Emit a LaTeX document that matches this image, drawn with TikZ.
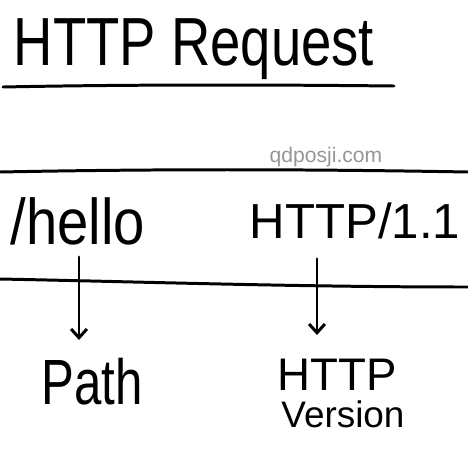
\documentclass[tikz,border=0pt]{standalone}
\usepackage{fontspec}
\setmainfont{Liberation Sans}
\usepackage{tikz}
\usetikzlibrary{arrows.meta}

\begin{document}
\begin{tikzpicture}[x=0.02cm, y=-0.02cm,
    pen/.style={line width=1.7pt, line cap=round},
    word/.style={inner sep=0pt, anchor=base},
    pointer/.style={pen, -{Straight Barb[length=5pt, width=9pt, line width=1.7pt]}}]
    \useasboundingbox (0, 0) rectangle (468, 468);

    % Title and its underline
    \node[word, font=\fontsize{31}{31}\selectfont] (title) at (194, 65) {\scalebox{1}[1.25]{HTTP Request}};
    \draw[pen] (3, 87) .. controls (150, 84) and (300, 85) .. (394, 86);

    % Watermark
    \node[word, font=\fontsize{12}{12}\selectfont, text={rgb,255:red,150;green,150;blue,150}] (mark) at (326, 162) {qdposji.com};

    % The request line, framed by two lines
    \draw[pen] (0, 172) .. controls (150, 169) and (300, 169) .. (468, 172);
    \node[word, font=\fontsize{32}{32}\selectfont] (hello) at (78, 244) {\scalebox{1}[1.15]{/hello}};
    \node[word, font=\fontsize{28}{28}\selectfont] (version) at (355, 238) {HTTP/1.1};
    \draw[pen] (0, 279) .. controls (150, 282) and (300, 287) .. (468, 287);

    % What each part means
    \node[word, font=\fontsize{28}{28}\selectfont] (path) at (92, 404) {\scalebox{1}[1.3]{Path}};
    \node[word, font=\fontsize{26}{26}\selectfont] (httpword) at (337, 390) {HTTP};
    \node[word, font=\fontsize{21}{21}\selectfont] (versionword) at (343, 427) {Version};

    % Arrows from the parts down to their names
    \coordinate (pathtip) at (79, 340);
    \coordinate (versiontip) at (317, 335);
    \draw[pointer] (hello.south -| pathtip) ++(0, 12) -- (pathtip);
    \draw[pointer] (version.south -| versiontip) ++(0, 20) -- (versiontip);
\end{tikzpicture}
\end{document}
